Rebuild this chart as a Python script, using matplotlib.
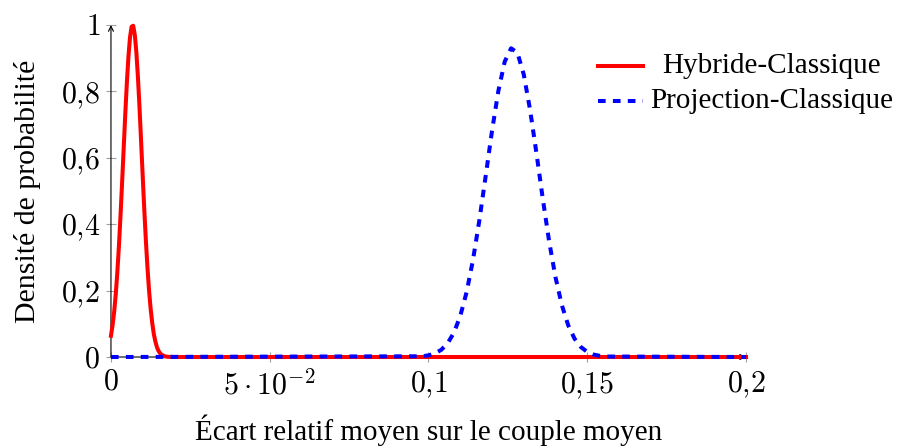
import numpy as np
import matplotlib
matplotlib.use('Agg')
from matplotlib import pyplot as plt
from matplotlib.lines import Line2D

plt.rcParams['font.family'] = ['Liberation Serif', 'DejaVu Serif']
plt.rcParams['mathtext.fontset'] = 'cm'

# Densité, écart hybride vs classique
x_hyb = [0.0, 0.0005, 0.001, 0.0015, 0.002, 0.0025, 0.003, 0.0035, 0.004, 0.0045,
         0.005, 0.0055, 0.006, 0.0065, 0.007, 0.0075, 0.008, 0.0085, 0.009, 0.0095,
         0.010, 0.0105, 0.011, 0.0115, 0.012, 0.0125, 0.013, 0.0135, 0.014, 0.0145,
         0.015, 0.0155, 0.016, 0.017, 0.018, 0.020, 0.2]
y_hyb = [0.064, 0.095, 0.135, 0.188, 0.254, 0.333, 0.424, 0.524, 0.627, 0.730,
         0.825, 0.904, 0.963, 0.995, 0.998, 0.971, 0.918, 0.842, 0.750, 0.648,
         0.544, 0.443, 0.350, 0.269, 0.200, 0.145, 0.102, 0.069, 0.046, 0.029,
         0.018, 0.011, 0.0065, 0.002, 0.0005, 0.0, 0.0]

# Densité, écart projection vs classique
x_proj = [0.0, 0.098, 0.100, 0.102, 0.104, 0.106, 0.108, 0.110, 0.112, 0.114,
          0.116, 0.118, 0.120, 0.122, 0.124, 0.126, 0.128, 0.130, 0.132, 0.134,
          0.136, 0.138, 0.140, 0.142, 0.144, 0.146, 0.148, 0.150, 0.152, 0.154,
          0.156, 0.2]
y_proj = [0.0, 0.0022, 0.005, 0.0108, 0.0215, 0.0409, 0.0732, 0.1234, 0.1955, 0.2918,
          0.4106, 0.5448, 0.6810, 0.8013, 0.8897, 0.930, 0.9166, 0.851, 0.744, 0.614,
          0.476, 0.348, 0.240, 0.156, 0.0956, 0.0551, 0.0300, 0.0153, 0.0074, 0.0034,
          0.0015, 0.0]

labels = ['Hybride-Classique', 'Projection-Classique']
xticks = [0, 0.05, 0.1, 0.15, 0.2]
xticklabels = [r'$0$', r'$5\cdot10^{-2}$', r'$0{,}1$', r'$0{,}15$', r'$0{,}2$']
yticks = [0, 0.2, 0.4, 0.6, 0.8, 1.0]
yticklabels = [r'$0$', r'$0{,}2$', r'$0{,}4$', r'$0{,}6$', r'$0{,}8$', r'$1$']

LW = 2.9
DASH = (1.9, 1.8)

fig = plt.figure(figsize=(8.97, 4.48), dpi=100)
ax = fig.add_axes([0.1237, 0.2031, 0.708, 0.741])

ax.plot(x_hyb, y_hyb, color='#ff0000', lw=LW, clip_on=False, zorder=3)
ax.plot(x_proj, y_proj, color='#0000ff', lw=LW, dashes=DASH,
        clip_on=False, zorder=4)

ax.set_xlim(0, 0.2)
ax.set_ylim(0, 1)
for s in ax.spines.values():
    s.set_visible(False)

# axes lines with arrow heads
ax.annotate('', xy=(1.0, 0), xytext=(0, 0), xycoords='axes fraction',
            arrowprops=dict(arrowstyle='->', lw=0.8, color='black',
                            shrinkA=0, shrinkB=0, mutation_scale=9), zorder=2)
ax.annotate('', xy=(0, 1.0), xytext=(0, 0), xycoords='axes fraction',
            arrowprops=dict(arrowstyle='->', lw=0.8, color='black',
                            shrinkA=0, shrinkB=0, mutation_scale=9), zorder=2)

ax.set_xticks(xticks)
ax.set_xticklabels(xticklabels)
ax.set_yticks(yticks)
ax.set_yticklabels(yticklabels)
ax.tick_params(axis='both', direction='inout', length=7.5, width=0.8,
               color='#a0a0a0', labelsize=21.5, pad=4)
ax.tick_params(axis='x', pad=5)

ax.set_xlabel('Écart relatif moyen sur le couple moyen', fontsize=21, labelpad=10)
ax.set_ylabel('Densité de probabilité', fontsize=21.5, labelpad=14)

# legend drawn by hand, labels centered
fig.add_artist(Line2D([598 / 897, 643 / 897], [1 - 66 / 448, 1 - 66 / 448],
                      color='#ff0000', lw=LW))
fig.add_artist(Line2D([598 / 897, 643 / 897], [1 - 101 / 448, 1 - 101 / 448],
                      color='#0000ff', lw=LW, dashes=DASH))
fig.text(771 / 897, 1 - 66 / 448, labels[0], ha='center', va='center', fontsize=21)
fig.text(772 / 897, 1 - 101 / 448, labels[1], ha='center', va='center', fontsize=21)

fig.savefig('out.png', dpi=100)
